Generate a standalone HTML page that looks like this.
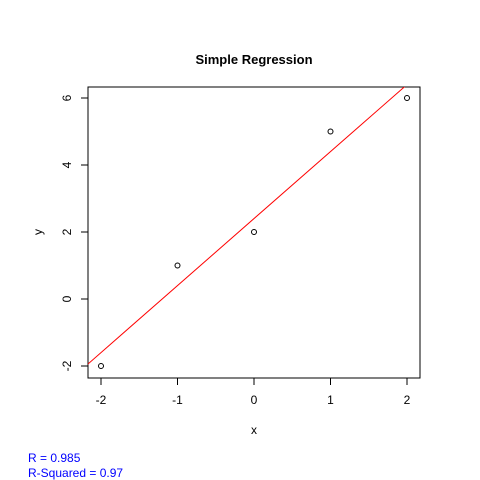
<!DOCTYPE html>
<html><head><meta charset="utf-8"><style>
body{margin:0;background:#fff;}
svg{display:block;font-family:"Liberation Sans",Arial,sans-serif;}
</style></head><body>
<svg id="chart" width="480" height="480" viewBox="0 0 480 480">
<rect width="480" height="480" fill="#fff"/>
<text x="254" y="64" text-anchor="middle" font-size="13" font-weight="bold">Simple Regression</text>
<rect x="88" y="87" width="332" height="291" fill="none" stroke="#000"/>
<g id="xticks"></g><g id="yticks"></g>
<clipPath id="clip"><rect x="88" y="87" width="332" height="291"/></clipPath>
<g id="line" clip-path="url(#clip)"></g>
<g id="points"></g>
<text x="254" y="434" text-anchor="middle" font-size="12">x</text>
<text transform="translate(42,232) rotate(-90)" text-anchor="middle" font-size="12">y</text>
<text x="28" y="462" font-size="12" fill="#0000ff">R = 0.985</text>
<text x="28" y="477" font-size="12" fill="#0000ff">R-Squared = 0.97</text>
</svg>
<script>
const xs = [-2, -1, 0, 1, 2];
const ys = [-2, 1, 2, 5, 6];
const xTickVals = [-2, -1, 0, 1, 2];
const yTickVals = [-2, 0, 2, 4, 6];
const NS = "http://www.w3.org/2000/svg";
const sx = v => 254 + v * 76.5;
const sy = v => 299 - v * 33.5;
function mk(tag, attrs, parent){const e=document.createElementNS(NS,tag);for(const k in attrs)e.setAttribute(k,attrs[k]);parent.appendChild(e);return e;}
const xt=document.getElementById('xticks'), yt=document.getElementById('yticks');
mk('line',{x1:sx(xTickVals[0]),x2:sx(xTickVals[xTickVals.length-1]),y1:378,y2:378,stroke:'#000'},xt);
xTickVals.forEach(v=>{
  const l=mk('line',{x1:sx(v),x2:sx(v),y1:378,y2:385,stroke:'#000'},xt);
  
  
  const t=mk('text',{x:sx(v),y:404,'text-anchor':'middle','font-size':12},xt);
  t.textContent=v;
  
  
});
mk('line',{x1:88,x2:88,y1:sy(yTickVals[0]),y2:sy(yTickVals[yTickVals.length-1]),stroke:'#000'},yt);
yTickVals.forEach(v=>{
  const l=mk('line',{x1:81,x2:88,y1:sy(v),y2:sy(v),stroke:'#000'},yt);
  
  
  const t=mk('text',{transform:`translate(71,${sy(v)}) rotate(-90)`,'text-anchor':'middle','font-size':12},yt);
  t.textContent=v;
  
  
});
// regression
const n=xs.length, mx=xs.reduce((a,b)=>a+b)/n, my=ys.reduce((a,b)=>a+b)/n;
let sxy=0,sxx=0;xs.forEach((x,i)=>{sxy+=(x-mx)*(ys[i]-my);sxx+=(x-mx)**2;});
const b=sxy/sxx,a=my-b*mx;
const ln=mk('line',{x1:sx(-3),y1:sy(a+b*-3),x2:sx(3),y2:sy(a+b*3),stroke:'#ff0000','stroke-width':1},document.getElementById('line'));


const pg=document.getElementById('points');
xs.forEach((x,i)=>{
  const c=mk('circle',{cx:sx(x),cy:sy(ys[i]),r:2.5,fill:'none',stroke:'#000'},pg);
  
  
});
</script>
</body></html>
